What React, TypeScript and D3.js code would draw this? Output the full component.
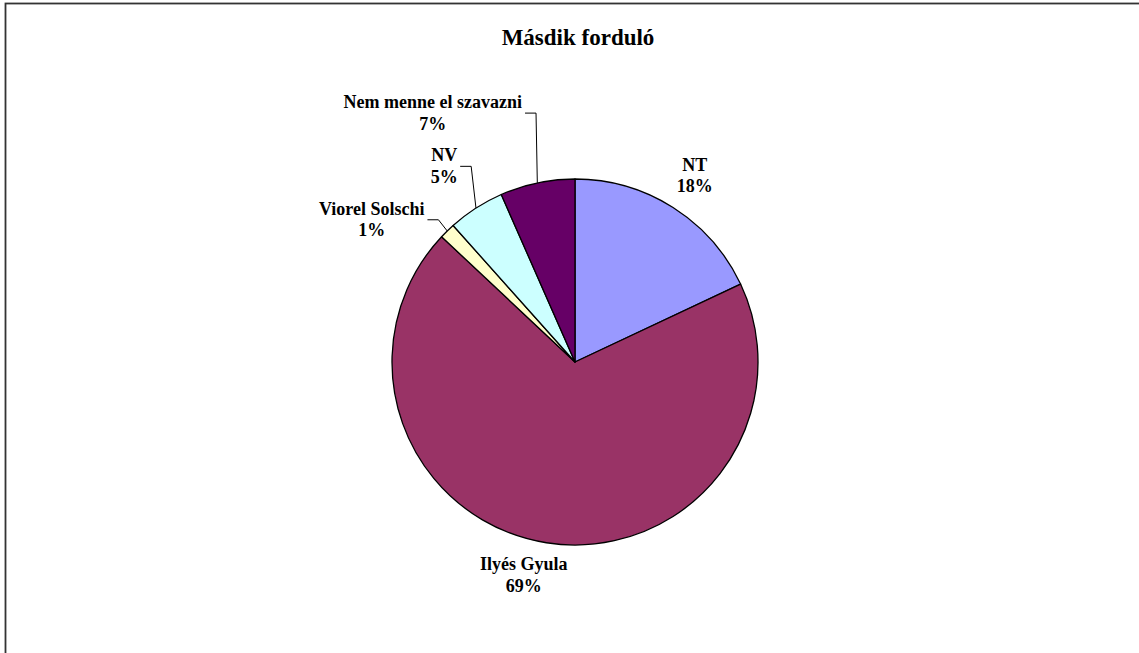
import React, { useEffect, useRef } from 'react';
import * as d3 from 'd3';

const title = 'Másdik forduló';
const categories = ['NT', 'Ilyés Gyula', 'Viorel Solschi', 'NV', 'Nem menne el szavazni'];
const values = [18.0, 69.0, 1.4, 5.0, 6.6];
const colors = ['#9999FF', '#993366', '#FFFFCC', '#CCFFFF', '#660066'];
// label nudges away from the default radial position, and which labels get a leader line
const labelNudge: [number, number][] = [[2, -6], [-17, -9], [-50, 10], [-12, -16], [-97, -39]];
const hasLeader = [false, false, true, true, true];

export default function App() {
  const svgRef = useRef<SVGSVGElement>(null);

  useEffect(() => {
    if (!svgRef.current) return;
    const width = 1139;
    const height = 653;
    const cx = 575;
    const cy = 362;
    const r = 183;

    const svg = d3.select(svgRef.current);
    svg.selectAll('*').remove();

    svg.append('rect')
      .attr('width', width)
      .attr('height', height)
      .attr('fill', '#fff');

    // outer frame (right and bottom edges sit off-canvas)
    svg.append('rect')
      .attr('x', 5.5)
      .attr('y', 3.5)
      .attr('width', width + 10)
      .attr('height', height + 10)
      .attr('fill', 'none')
      .attr('stroke', '#333')
      .attr('stroke-width', 1.8);

    svg.append('text')
      .attr('x', 578)
      .attr('y', 45)
      .attr('text-anchor', 'middle')
      .style('font-family', "'Liberation Serif', 'Times New Roman', serif")
      .style('font-weight', 'bold')
      .style('font-size', '23px')
      .text(title);

    const data = categories.map((name, i) => ({ name, value: values[i], i }));
    const total = d3.sum(values);

    const pie = d3.pie<typeof data[0]>()
      .value(d => d.value)
      .sort(null)
      .startAngle(0)
      .endAngle(2 * Math.PI);
    const arcs = pie(data);

    const arc = d3.arc<d3.PieArcDatum<typeof data[0]>>()
      .innerRadius(0)
      .outerRadius(r);

    const g = svg.append('g').attr('transform', `translate(${cx},${cy})`);

    g.selectAll('path')
      .data(arcs)
      .enter()
      .append('path')
      .attr('d', arc)
      .attr('fill', d => colors[d.data.i])
      .attr('stroke', '#000')
      .attr('stroke-width', 1.3)
      .attr('stroke-linejoin', 'round');

    const point = (a: number, rad: number) => [rad * Math.sin(a), -rad * Math.cos(a)];

    arcs.forEach(d => {
      const i = d.data.i;
      const mid = (d.startAngle + d.endAngle) / 2;
      const [lx0, ly0] = point(mid, r * 1.2);
      const lx = lx0 + labelNudge[i][0];
      const ly = ly0 + labelNudge[i][1];

      const label = g.append('text')
        .attr('text-anchor', 'middle')
        .style('font-family', "'Liberation Serif', 'Times New Roman', serif")
        .style('font-weight', 'bold')
        .style('font-size', '18px')
        .attr('fill', '#000');
      const t1 = label.append('tspan').attr('x', lx).attr('y', ly).text(d.data.name);
      label.append('tspan').attr('x', lx).attr('y', ly + 21.7)
        .text(`${Math.round((d.data.value / total) * 100)}%`);

      if (hasLeader[i]) {
        const w = (t1.node() as SVGTextContentElement).getComputedTextLength();
        const sx = lx + w / 2 + 3;
        const sy = ly + 5;
        const [ex, ey] = point(mid, r);
        g.append('path')
          .attr('d', d3.line()([[sx, sy], [sx + 11, sy], [ex, ey]]))
          .attr('fill', 'none')
          .attr('stroke', '#000')
          .attr('stroke-width', 1);
      }
    });
  }, []);

  return (
    <svg
      ref={svgRef}
      width={1139}
      height={653}
      style={{ position: 'absolute', left: 0, top: 0, display: 'block' }}
    />
  );
}
